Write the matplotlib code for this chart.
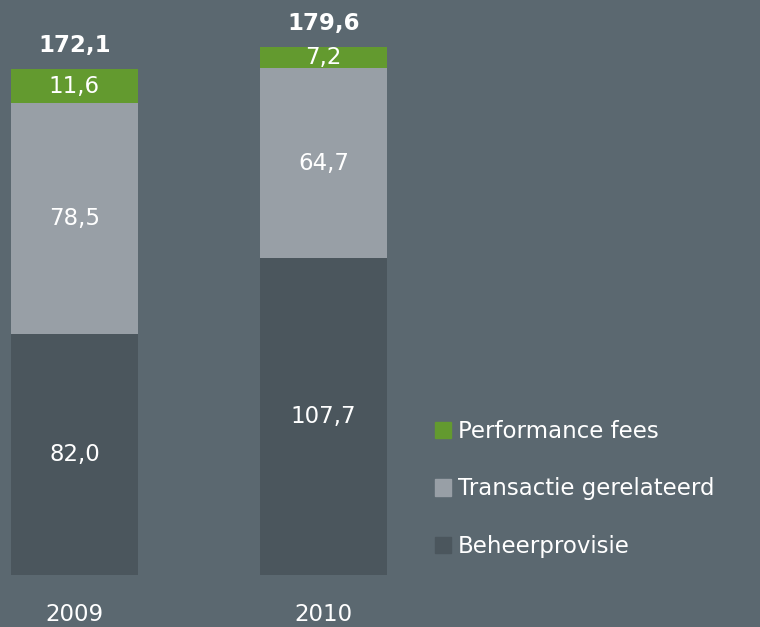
import matplotlib
matplotlib.use("Agg")
import matplotlib.pyplot as plt
from matplotlib.patches import Patch

plt.rcParams["font.family"] = ["DejaVu Sans"]

years = ["2009", "2010"]
beheer = [82.0, 107.7]
transactie = [78.5, 64.7]
performance = [11.6, 7.2]
totals = [172.1, 179.6]
series_names = ["Performance fees", "Transactie gerelateerd", "Beheerprovisie"]

bg = "#5b6870"
c_dark = "#4b565d"
c_light = "#989fa6"
c_green = "#639a2f"

def fmt(v):
    return f"{v:.1f}".replace(".", ",")

fig = plt.figure(figsize=(7.6, 6.27), dpi=100, facecolor=bg)
ax = fig.add_axes([0, 52 / 627, 1, 575 / 627])
ax.set_facecolor(bg)
for s in ax.spines.values():
    s.set_visible(False)
ax.set_xticks([])
ax.set_yticks([])

x = list(range(len(years)))
w = 0.51
bottom2 = [b + t for b, t in zip(beheer, transactie)]
ax.bar(x, beheer, width=w, color=c_dark, zorder=3)
ax.bar(x, transactie, width=w, bottom=beheer, color=c_light, zorder=3)
ax.bar(x, performance, width=w, bottom=bottom2, color=c_green, zorder=1)

fs = 16.5
for i in x:
    ax.text(i, beheer[i] / 2, fmt(beheer[i]), ha="center", va="center",
            color="white", fontsize=fs, zorder=4)
    ax.text(i, beheer[i] + transactie[i] / 2, fmt(transactie[i]), ha="center",
            va="center", color="white", fontsize=fs, zorder=4)
    ax.text(i, bottom2[i] + performance[i] / 2, fmt(performance[i]), ha="center",
            va="center", color="white", fontsize=fs, zorder=2)
    ax.text(i, totals[i] + 8, fmt(totals[i]), ha="center", va="center",
            color="white", fontsize=fs, fontweight="bold", zorder=4)
    ax.text(i, -13.5, years[i], ha="center", va="center", color="white",
            fontsize=fs, clip_on=False)

ax.set_xlim(-74.5 / 249, (760 - 74.5) / 249)
ax.set_ylim(0, 575 / 2.94)

handles = [Patch(color=c_green), Patch(color=c_light), Patch(color=c_dark)]
leg = fig.legend(handles, series_names, loc="center left",
                 bbox_to_anchor=(426 / 760, 1 - 489 / 627), frameon=False,
                 fontsize=fs, handlelength=0.7, handleheight=0.7,
                 handletextpad=0.3, labelspacing=1.5, borderaxespad=0)
for t in leg.get_texts():
    t.set_color("white")

fig.savefig("out.png", dpi=100, facecolor=bg)
